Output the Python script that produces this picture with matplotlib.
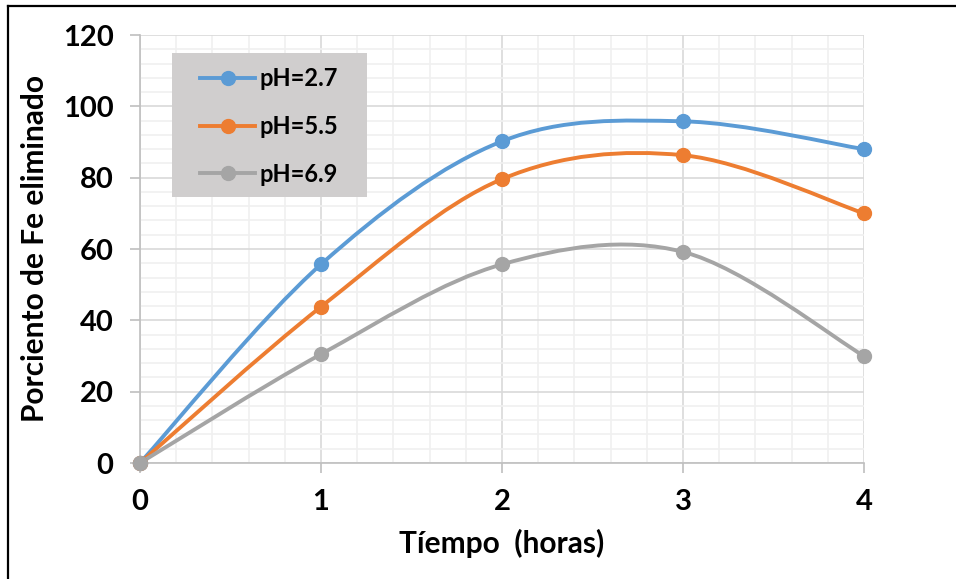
import numpy as np
import matplotlib.pyplot as plt
from matplotlib.path import Path
from matplotlib.patches import PathPatch, Rectangle
from matplotlib.lines import Line2D
from matplotlib.ticker import MultipleLocator

plt.rcParams['font.family'] = ['Lato', 'DejaVu Sans']
plt.rcParams['font.weight'] = 'bold'

tiempo = [0, 1, 2, 3, 4]
ph_27 = [0, 55.7, 90.2, 95.8, 88.0]
ph_55 = [0, 43.8, 79.6, 86.3, 70.0]
ph_69 = [0, 30.5, 55.7, 59.2, 30.0]
etiquetas = ["pH=2.7", "pH=5.5", "pH=6.9"]
colores = ["#5B9BD5", "#ED7D31", "#A5A5A5"]


def curva_suave(x, y):
    # spline tipo Excel: segmentos Bezier con puntos de control (P2-P0)/6
    x = np.asarray(x, float)
    y = np.asarray(y, float)
    pts = np.column_stack([x, y])
    n = len(pts)
    verts = [pts[0]]
    codes = [Path.MOVETO]
    for i in range(n - 1):
        p0 = pts[i - 1] if i > 0 else pts[i]
        p1 = pts[i]
        p2 = pts[i + 1]
        p3 = pts[i + 2] if i + 2 < n else pts[i + 1]
        c1 = p1 + (p2 - p0) / 6.0
        c2 = p2 - (p3 - p1) / 6.0
        verts += [c1, c2, p2]
        codes += [Path.CURVE4] * 3
    return Path(verts, codes)


fig = plt.figure(figsize=(9.56, 5.79), dpi=100)
W, H = 724, 428
ax = fig.add_axes([140 / 956, 1 - 463 / 579, W / 956, H / 579])

for serie, color, lab in zip([ph_27, ph_55, ph_69], colores, etiquetas):
    ax.add_patch(PathPatch(curva_suave(tiempo, serie), facecolor='none',
                           edgecolor=color, lw=2.8, zorder=3,
                           capstyle='round'))
    ax.plot(tiempo, serie, 'o', color=color, ms=10, zorder=4, clip_on=False)

ax.set_xlim(0, 4)
ax.set_ylim(0, 120)
ax.xaxis.set_major_locator(MultipleLocator(1))
ax.xaxis.set_minor_locator(MultipleLocator(0.2))
ax.yaxis.set_major_locator(MultipleLocator(20))
ax.yaxis.set_minor_locator(MultipleLocator(4))
ax.grid(which='major', color='#D9D9D9', lw=1.2, zorder=1)
ax.grid(which='minor', color='#F0F0F0', lw=1.2, zorder=0)
ax.set_axisbelow(True)

for s in ['top', 'right']:
    ax.spines[s].set_visible(False)
for s in ['left', 'bottom']:
    ax.spines[s].set_color('#BFBFBF')
    ax.spines[s].set_linewidth(1.2)

ax.tick_params(which='major', length=7, width=1.2, color='#BFBFBF',
               labelsize=21, pad=12)
ax.tick_params(axis='y', pad=12)
ax.tick_params(which='minor', length=0)

ax.set_xlabel("Tíempo  (horas)", fontsize=21.5, fontweight='bold', labelpad=10)
ax.set_ylabel("Porciento de Fe eliminado", fontsize=21.5, fontweight='bold',
              labelpad=10)

# caja gris de la leyenda
ax.add_patch(Rectangle((32 / W, 1 - 162 / H), 195 / W, 144 / H,
                       transform=ax.transAxes, facecolor='#D0CECE',
                       edgecolor='none', zorder=5))
handles = [Line2D([], [], color=c, lw=2.8, marker='o', ms=10) for c in colores]
leg = ax.legend(handles, etiquetas, loc='upper left',
                bbox_to_anchor=(60 / W, 1 - 32 / H), fontsize=17,
                frameon=False, handlelength=2.33, labelspacing=1.05,
                borderpad=0, handletextpad=0.2, borderaxespad=0)
leg.set_zorder(6)
for t in leg.get_texts():
    t.set_fontweight('bold')

# marco de la figura (izquierda y arriba)
fig.add_artist(Line2D([7.5 / 956, 7.5 / 956], [0, 1 - 5.5 / 579],
                      color='black', lw=1.6, transform=fig.transFigure))
fig.add_artist(Line2D([7.5 / 956, 1], [1 - 5.5 / 579, 1 - 5.5 / 579],
                      color='black', lw=1.6, transform=fig.transFigure))

fig.savefig("out.png", dpi=100)
